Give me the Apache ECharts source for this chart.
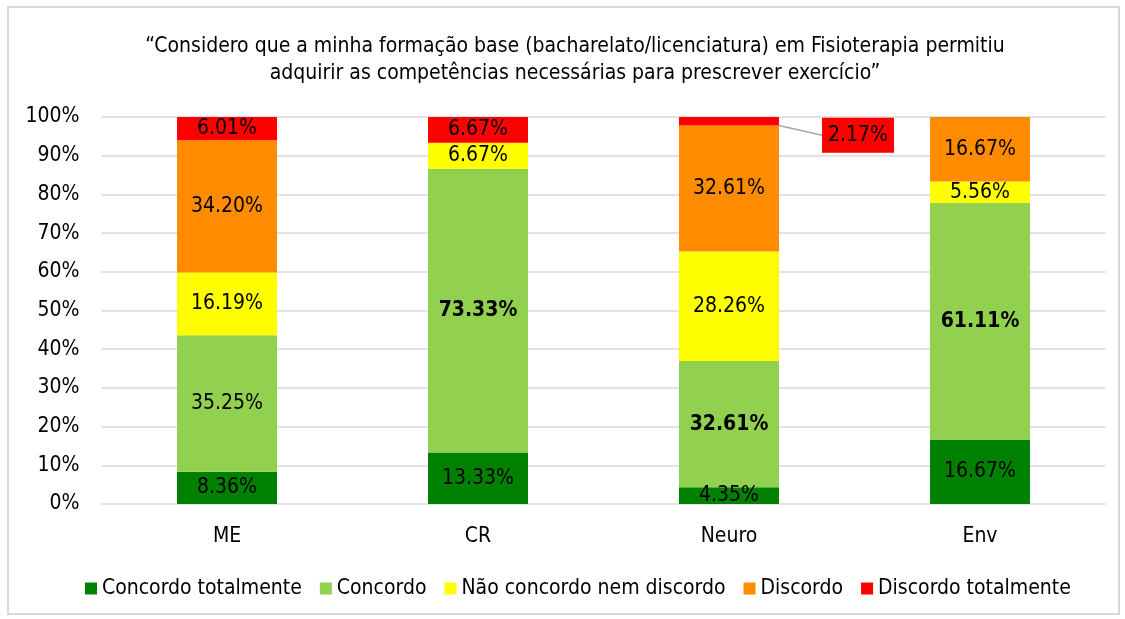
<!DOCTYPE html>
<html>
<head>
<meta charset="utf-8">
<script src="https://cdn.jsdelivr.net/npm/echarts@6/dist/echarts.min.js"></script>
<style>
  html, body { margin: 0; padding: 0; background: #fff; }
  #frame { position: absolute; left: 7px; top: 6px; width: 1109px; height: 605px; border: 2px solid #d9d9d9; }
  #chart { position: absolute; left: 0; top: 0; width: 1125px; height: 619px; }
</style>
</head>
<body>
<div id="frame"></div>
<div id="chart"></div>
<script>
  // dados
  var categories = ['ME', 'CR', 'Neuro', 'Env'];
  var seriesNames = ['Concordo totalmente', 'Concordo', 'Não concordo nem discordo', 'Discordo', 'Discordo totalmente'];
  var concordoTotalmente = [8.36, 13.33, 4.35, 16.67];
  var concordo = [35.25, 73.33, 32.61, 61.11];
  var naoConcordoNemDiscordo = [16.19, 6.67, 28.26, 5.56];
  var discordo = [34.20, 0, 32.61, 16.67];
  var discordoTotalmente = [6.01, 6.67, 2.17, 0];
  var yTicks = [0, 10, 20, 30, 40, 50, 60, 70, 80, 90, 100];

  var colors = ['#008000', '#92D050', '#FFFF00', '#FF8C00', '#FF0000'];
  var font = "'Liberation Sans Narrow', 'DejaVu Sans Condensed', 'Roboto', sans-serif";

  var myChart = echarts.init(document.getElementById('chart'));

  function makeSeries(idx, values) {
    var s = {
      name: seriesNames[idx],
      type: 'bar',
      stack: 'total',
      barWidth: 100,
      itemStyle: { color: colors[idx] },
      label: {
        show: true,
        position: 'inside',
        color: '#000',
        fontFamily: font,
        fontSize: 21,
        formatter: function (p) {
          return p.value > 0 ? p.value.toFixed(2) + '%' : '';
        }
      },
      data: values.map(function (v, i) {
        var item = { value: v };
        // destaque a negrito (Concordo em CR, Neuro, Env)
        if (idx === 1 && i > 0) item.label = { fontWeight: 'bold' };
        // etiqueta de Neuro / Discordo totalmente fora da barra
        if (idx === 4 && i === 2) {
          item.label = {
            position: 'right',
            distance: 43,
            backgroundColor: '#FF0000',
            padding: [7, 6, 7, 6]
          };
          item.labelLine = { show: true, lineStyle: { color: '#a6a6a6', width: 1.5 } };
        }
        return item;
      })
    };
    if (idx === 4) {
      s.labelLayout = function (params) {
        if (params.dataIndex === 2) return { dy: 14 };
      };
    }
    return s;
  }

  var option = {
    animation: false,
    textStyle: { fontFamily: font },
    title: {
      text: '\u201CConsidero que a minha formação base (bacharelato/licenciatura) em Fisioterapia permitiu\nadquirir as competências necessárias para prescrever exercício\u201D',
      left: 570,
      textAlign: 'center',
      top: 28,
      textStyle: { fontFamily: font, fontSize: 21, fontWeight: 'normal', color: '#000', lineHeight: 27 }
    },
    legend: {
      data: seriesNames,
      left: 80,
      top: 573,
      itemWidth: 12,
      itemHeight: 12,
      itemGap: 18,
      icon: 'rect',
      textStyle: { fontFamily: font, fontSize: 21, color: '#000' }
    },
    grid: { left: 101.5, right: 19.5, top: 117, bottom: 115 },
    xAxis: {
      type: 'category',
      data: categories,
      axisLine: { show: false },
      axisTick: { show: false },
      axisLabel: { color: '#000', fontFamily: font, fontSize: 21, margin: 22 }
    },
    yAxis: {
      type: 'value',
      min: yTicks[0],
      max: yTicks[yTicks.length - 1],
      interval: 10,
      axisLine: { show: false },
      axisTick: { show: false },
      splitLine: { lineStyle: { color: '#d9d9d9', width: 1.5 } },
      axisLabel: { color: '#000', fontFamily: font, fontSize: 21, margin: 22, formatter: '{value}%' }
    },
    series: [
      makeSeries(0, concordoTotalmente),
      makeSeries(1, concordo),
      makeSeries(2, naoConcordoNemDiscordo),
      makeSeries(3, discordo),
      makeSeries(4, discordoTotalmente)
    ]
  };
  myChart.setOption(option);
</script>
</body>
</html>
